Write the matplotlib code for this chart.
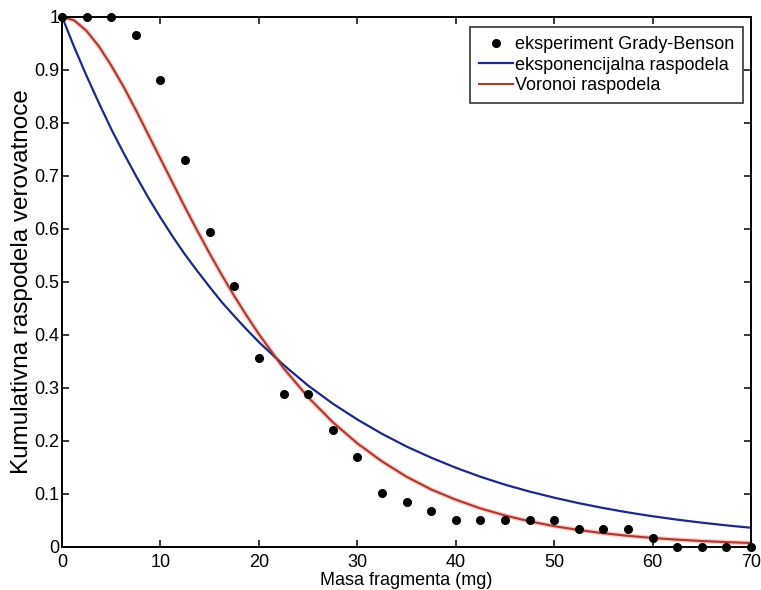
import numpy as np
import matplotlib
matplotlib.use('Agg')
import matplotlib.pyplot as plt

plt.rcParams['font.family'] = ['Liberation Sans', 'DejaVu Sans']

# --- podaci ocitani sa slike ---
masa = [0, 2.5, 5, 7.5, 10, 12.5, 15, 17.5, 20, 22.5, 25, 27.5, 30, 32.5, 35,
        37.5, 40, 42.5, 45, 47.5, 50, 52.5, 55, 57.5, 60, 62.5, 65, 67.5, 70]

eksperiment = [1.0, 1.0, 1.0, 0.966, 0.881, 0.729, 0.593, 0.491, 0.356, 0.288,
               0.288, 0.220, 0.170, 0.101, 0.085, 0.067, 0.050, 0.050, 0.050,
               0.050, 0.050, 0.034, 0.034, 0.034, 0.017, 0.0, 0.0, 0.0, 0.0]

# tacke na krivama (gusce na pocetku gde su krive vise zakrivljene)
masa_kriva = [0, 1.25, 2.5, 3.75, 5, 6.25, 7.5, 8.75, 10, 11.25, 12.5, 13.75, 15,
              16.25, 17.5, 18.75, 20, 22.5, 25, 27.5, 30, 32.5, 35, 37.5, 40,
              42.5, 45, 47.5, 50, 52.5, 55, 57.5, 60, 62.5, 65, 67.5, 70]

eksponencijalna = [1.0, 0.942, 0.888, 0.837, 0.788, 0.743, 0.700, 0.659, 0.621,
                   0.585, 0.551, 0.520, 0.490, 0.461, 0.435, 0.410, 0.386,
                   0.343, 0.304, 0.270, 0.240, 0.213, 0.189, 0.168, 0.149, 0.132,
                   0.117, 0.104, 0.0925, 0.0821, 0.0729, 0.0647, 0.0574, 0.0510,
                   0.0453, 0.0402, 0.0357]

voronoi = [1.0, 0.993, 0.973, 0.944, 0.908, 0.868, 0.824, 0.778, 0.732, 0.686,
           0.640, 0.596, 0.553, 0.512, 0.473, 0.436, 0.401, 0.337,
           0.282, 0.235, 0.195, 0.161, 0.132, 0.108, 0.0887, 0.0723, 0.0589,
           0.0478, 0.0388, 0.0314, 0.0254, 0.0205, 0.0165, 0.0133, 0.0107,
           0.0086, 0.0069]

x_ticks = [0, 10, 20, 30, 40, 50, 60, 70]
y_ticks = [0, 0.1, 0.2, 0.3, 0.4, 0.5, 0.6, 0.7, 0.8, 0.9, 1]
y_tick_labels = ['0', '0.1', '0.2', '0.3', '0.4', '0.5', '0.6', '0.7', '0.8', '0.9', '1']

fig = plt.figure(figsize=(7.61, 5.90), dpi=100)
ax = fig.add_axes([0.0815, 0.0734, 0.9055, 0.8983])

# blagi sjaj oko crvene linije
ax.plot(masa_kriva, voronoi, color='#ff6b6b', lw=3.4, alpha=0.35, solid_capstyle='round')
ax.plot(masa, eksperiment, 'o', color='black', ms=5.5, clip_on=False, zorder=5,
        label='eksperiment Grady-Benson')
ax.plot(masa_kriva, eksponencijalna, color='#1c2a85', lw=1.6, label='eksponencijalna raspodela')
ax.plot(masa_kriva, voronoi, color='#a83a30', lw=1.5, label='Voronoi raspodela')

ax.set_xlim(0, 70)
ax.set_ylim(0, 1)
ax.set_xticks(x_ticks)
ax.set_yticks(y_ticks)
ax.set_yticklabels(y_tick_labels)

ax.tick_params(direction='in', top=True, right=True, length=5, width=1.1,
               labelsize=13)
ax.tick_params(axis='x', pad=5)
ax.tick_params(axis='y', pad=2)
for sp in ax.spines.values():
    sp.set_linewidth(1.4)

ax.set_xlabel('Masa fragmenta (mg)', fontsize=13, labelpad=1)
ax.set_ylabel('Kumulativna raspodela verovatnoce', fontsize=17.5, labelpad=1)

leg = ax.legend(loc='upper right', bbox_to_anchor=(0.9884, 0.9806), fontsize=13,
                frameon=True, fancybox=False, handlelength=1.9, handletextpad=0.1,
                borderpad=0.5, labelspacing=0.2, borderaxespad=0.0)
leg.get_frame().set_edgecolor('black')
leg.get_frame().set_linewidth(1.2)

fig.savefig('out.png', dpi=100)
